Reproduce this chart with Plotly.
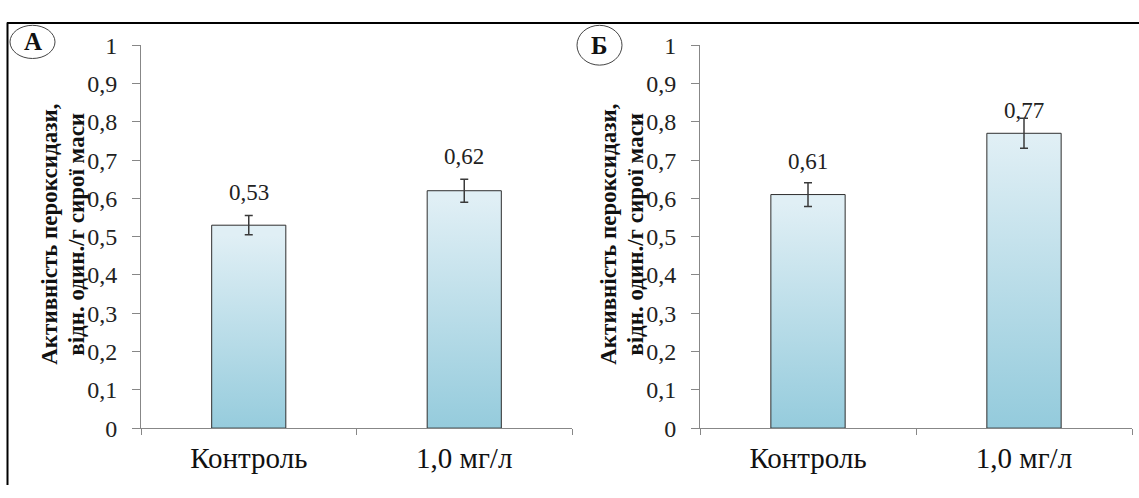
import plotly.graph_objects as go

# ---------------- data ----------------
categories = ["Контроль", "1,0 мг/л"]
values_a = [0.53, 0.62]
errors_a = [0.025, 0.03]
labels_a = ["0,53", "0,62"]
values_b = [0.61, 0.77]
errors_b = [0.031, 0.039]
labels_b = ["0,61", "0,77"]
ytick_vals = [0, 0.1, 0.2, 0.3, 0.4, 0.5, 0.6, 0.7, 0.8, 0.9, 1.0]
ytick_text = ["0", "0,1", "0,2", "0,3", "0,4", "0,5", "0,6", "0,7", "0,8", "0,9", "1"]
panel_letters = ["А", "Б"]
y_title_lines = ["Активність пероксидази,", "відн. один./г сирої маси"]

# ---------------- layout helpers ----------------
W, H = 1139, 498
def px(x):
    return x / W
def py(y):
    return 1 - y / H

FONT = "Liberation Serif"
AXIS_GREY = "#878787"
BAR_HALF = 0.172
label_shift = [[33, 34], [33, 23]]

panels = [
    dict(values=values_a, errors=errors_a, labels=labels_a, xa="x", ya="y",
         dom=(141, 572), letter_box=(10, 13, 55, 48)),
    dict(values=values_b, errors=errors_b, labels=labels_b, xa="x2", ya="y2",
         dom=(700, 1132), letter_box=(577, 13, 622, 55)),
]

fig = go.Figure()
annotations = []
shapes = []

for p_i, p in enumerate(panels):
    for i, v in enumerate(p["values"]):
        fig.add_trace(go.Scatter(
            x=[i - BAR_HALF, i + BAR_HALF, i + BAR_HALF, i - BAR_HALF, i - BAR_HALF],
            y=[0, 0, v, v, 0],
            mode="lines", fill="toself",
            fillgradient=dict(type="vertical",
                              colorscale=[[0, "#8ec8da"], [1, "#e0eff5"]],
                              start=0, stop=v),
            line=dict(color="#2e2e2e", width=1),
            xaxis=p["xa"], yaxis=p["ya"], showlegend=False, hoverinfo="skip"))
    fig.add_trace(go.Scatter(
        x=list(range(len(categories))), y=p["values"], mode="markers",
        marker=dict(opacity=0, size=2),
        error_y=dict(type="data", array=p["errors"], color="#3a3a3a",
                     thickness=1.5, width=4),
        xaxis=p["xa"], yaxis=p["ya"], showlegend=False))
    for i, (v, t) in enumerate(zip(p["values"], p["labels"])):
        annotations.append(dict(
            x=i, y=v, xref=p["xa"], yref=p["ya"], text=t, showarrow=False,
            yanchor="middle", yshift=label_shift[p_i][i],
            font=dict(family=FONT, size=23, color="#222222")))
    # y-axis title (two lines)
    for k, line in enumerate(y_title_lines):
        annotations.append(dict(
            x=px(p["dom"][0] - 91 + 27 * k), y=py(234), xref="paper", yref="paper",
            text="<b>" + line + "</b>", textangle=-90, showarrow=False,
            xanchor="center", yanchor="middle",
            font=dict(family=FONT, size=23, color="#111111")))
    # panel letter in circle
    x0, y0, x1, y1 = p["letter_box"]
    shapes.append(dict(type="circle", xref="paper", yref="paper",
                       x0=px(x0), x1=px(x1), y0=py(y1), y1=py(y0),
                       line=dict(color="#444444", width=1)))
    annotations.append(dict(
        x=px((x0 + x1) / 2), y=py((y0 + y1) / 2), xref="paper", yref="paper",
        text="<b>" + panel_letters[p_i] + "</b>", showarrow=False,
        xanchor="center", yanchor="middle",
        font=dict(family=FONT, size=25, color="#111111")))

# outer frame (left and top edges)
shapes.append(dict(type="line", xref="paper", yref="paper",
                   x0=px(7.5), x1=px(7.5), y0=0, y1=py(10), line=dict(color="#000", width=2)))
shapes.append(dict(type="line", xref="paper", yref="paper",
                   x0=px(7), x1=1, y0=py(10.5), y1=py(10.5), line=dict(color="#000", width=2)))

def xaxis_cfg(dom):
    return dict(domain=[px(dom[0]), px(dom[1])], range=[-0.5, 1.5],
                tickmode="array", tickvals=list(range(len(categories))), ticktext=categories,
                ticks="", showline=True, linecolor=AXIS_GREY, linewidth=1,
                showgrid=False, zeroline=False,
                tickfont=dict(family=FONT, size=29, color="#111111"),
                minor=dict(tickmode="array", tickvals=[-0.5, 0.5, 1.5], ticks="outside",
                           ticklen=6, tickcolor=AXIS_GREY, tickwidth=1),
                ticklabelstandoff=4)

def yaxis_cfg():
    return dict(domain=[py(438), py(34)], range=[0, 1],
                tickmode="array", tickvals=ytick_vals, ticktext=ytick_text,
                ticks="outside", ticklen=8, tickcolor=AXIS_GREY, tickwidth=1,
                showline=True, linecolor=AXIS_GREY, linewidth=1,
                showgrid=False, zeroline=False,
                tickfont=dict(family=FONT, size=24, color="#222222"),
                ticklabelstandoff=10)

xa = xaxis_cfg(panels[0]["dom"]); xa["anchor"] = "y"
xb = xaxis_cfg(panels[1]["dom"]); xb["anchor"] = "y2"
ya = yaxis_cfg(); ya["anchor"] = "x"
yb = yaxis_cfg(); yb["anchor"] = "x2"

fig.update_layout(
    width=W, height=H, margin=dict(l=0, r=0, t=0, b=0),
    paper_bgcolor="white", plot_bgcolor="white",
    xaxis=xa, xaxis2=xb, yaxis=ya, yaxis2=yb,
    annotations=annotations, shapes=shapes, showlegend=False,
)

fig.write_html("out.html", config={"displayModeBar": False},
               post_script="document.body.style.margin='0';")
